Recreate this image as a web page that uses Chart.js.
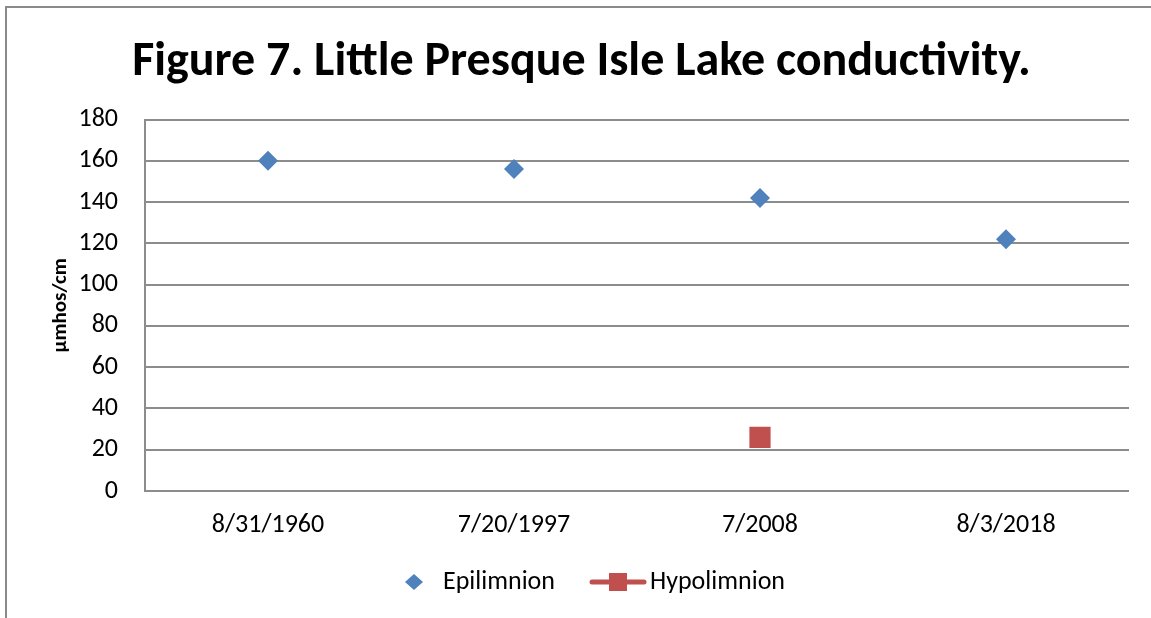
<!DOCTYPE html>
<html><head><meta charset="utf-8">
<script src="https://cdn.jsdelivr.net/npm/chart.js@4/dist/chart.umd.min.js"></script>
<style>html,body{margin:0;padding:0;background:#fff;overflow:hidden}</style>
</head><body>
<canvas id="c" width="1151" height="618"></canvas>
<script>
const chartTitle = 'Figure 7. Little Presque Isle Lake conductivity.';
const yAxisTitle = 'µmhos/cm';
const categories = ['8/31/1960', '7/20/1997', '7/2008', '8/3/2018'];
const epilimnion = [160, 156, 142, 122];
const hypolimnion = [null, null, 26, null];
const seriesNames = ['Epilimnion', 'Hypolimnion'];
const yMin = 0, yMax = 180, yStep = 20;

const FONT = "Carlito, Calibri, Lato, sans-serif";
const BLUE = '#4F81BD', RED = '#C0504D', GRID = '#8c8c8c';

// legend icons: image 80 wide, drawn centred on the legend box; content shifted right
function legendIcon(kind) {
  const c = document.createElement('canvas');
  c.width = 80; c.height = 22;
  const g = c.getContext('2d');
  if (kind === 'diamond') {
    const cx = 40 + 10;
    g.fillStyle = BLUE;
    g.beginPath();
    g.moveTo(cx, 3); g.lineTo(cx + 9, 11); g.lineTo(cx, 19); g.lineTo(cx - 9, 11); g.closePath();
    g.fill();
  } else {
    const cx = 40 + 7;
    g.strokeStyle = RED; g.lineWidth = 5; g.lineCap = 'round';
    g.beginPath(); g.moveTo(cx - 26, 11); g.lineTo(cx + 26, 11); g.stroke();
    g.fillStyle = RED; g.fillRect(cx - 9, 2, 18, 18);
  }
  return c;
}

const borderPlugin = {
  id: 'outerBorder',
  beforeDraw(chart) {
    const ctx = chart.ctx;
    ctx.save();
    ctx.strokeStyle = '#8a8a8a'; ctx.lineWidth = 2;
    ctx.beginPath();
    ctx.moveTo(6, 618); ctx.lineTo(6, 7); ctx.lineTo(1151, 7);
    ctx.stroke();
    ctx.restore();
  }
};

new Chart(document.getElementById('c'), {
  type: 'line',
  data: {
    labels: categories,
    datasets: [
      { label: seriesNames[0], data: epilimnion, showLine: false, pointStyle: 'rectRot',
        pointRadius: 10, pointHoverRadius: 10, backgroundColor: BLUE, borderColor: BLUE, borderWidth: 0 },
      { label: seriesNames[1], data: hypolimnion, showLine: true, pointStyle: 'rect',
        pointRadius: 15, pointHoverRadius: 15, backgroundColor: RED, borderColor: RED, borderWidth: 4,
        pointBorderWidth: 0 }
    ]
  },
  options: {
    responsive: false, animation: false, devicePixelRatio: 1,
    layout: { padding: { left: 34, right: 22, top: 0, bottom: 13 } },
    plugins: {
      title: { display: true, text: chartTitle, color: '#000',
        font: { family: FONT, size: 48, weight: 'bold' }, padding: { top: 34, bottom: 28 } },
      legend: { position: 'bottom',
        labels: { usePointStyle: true, pointStyleWidth: 52, color: '#000', padding: 30,
          font: { family: FONT, size: 26 },
          generateLabels: (chart) => [
            { text: seriesNames[0], pointStyle: legendIcon('diamond'), fillStyle: BLUE, strokeStyle: BLUE, lineWidth: 0, hidden: false, datasetIndex: 0, fontColor: '#000' },
            { text: seriesNames[1], pointStyle: legendIcon('line'), fillStyle: RED, strokeStyle: RED, lineWidth: 0, hidden: false, datasetIndex: 1, fontColor: '#000' }
          ] } },
      tooltip: { enabled: false }
    },
    scales: {
      x: { offset: true, grid: { display: false, drawTicks: false }, border: { display: false },
        ticks: { color: '#000', padding: 24, maxRotation: 0, font: { family: FONT, size: 26, lineHeight: 0.846 } },
        afterFit(s) { s.height = 48; } },
      y: { min: yMin, max: yMax,
        ticks: { stepSize: yStep, color: '#000', padding: 27, font: { family: FONT, size: 26 } },
        grid: { color: GRID, lineWidth: 2, drawTicks: false },
        border: { color: GRID, width: 2 },
        title: { display: true, text: yAxisTitle, color: '#000', padding: { top: 14, bottom: 0 },
          font: { family: FONT, size: 21, weight: 'bold' } },
        afterFit(s) { s.width = 111; } }
    }
  },
  plugins: [borderPlugin]
});
</script>
</body></html>
